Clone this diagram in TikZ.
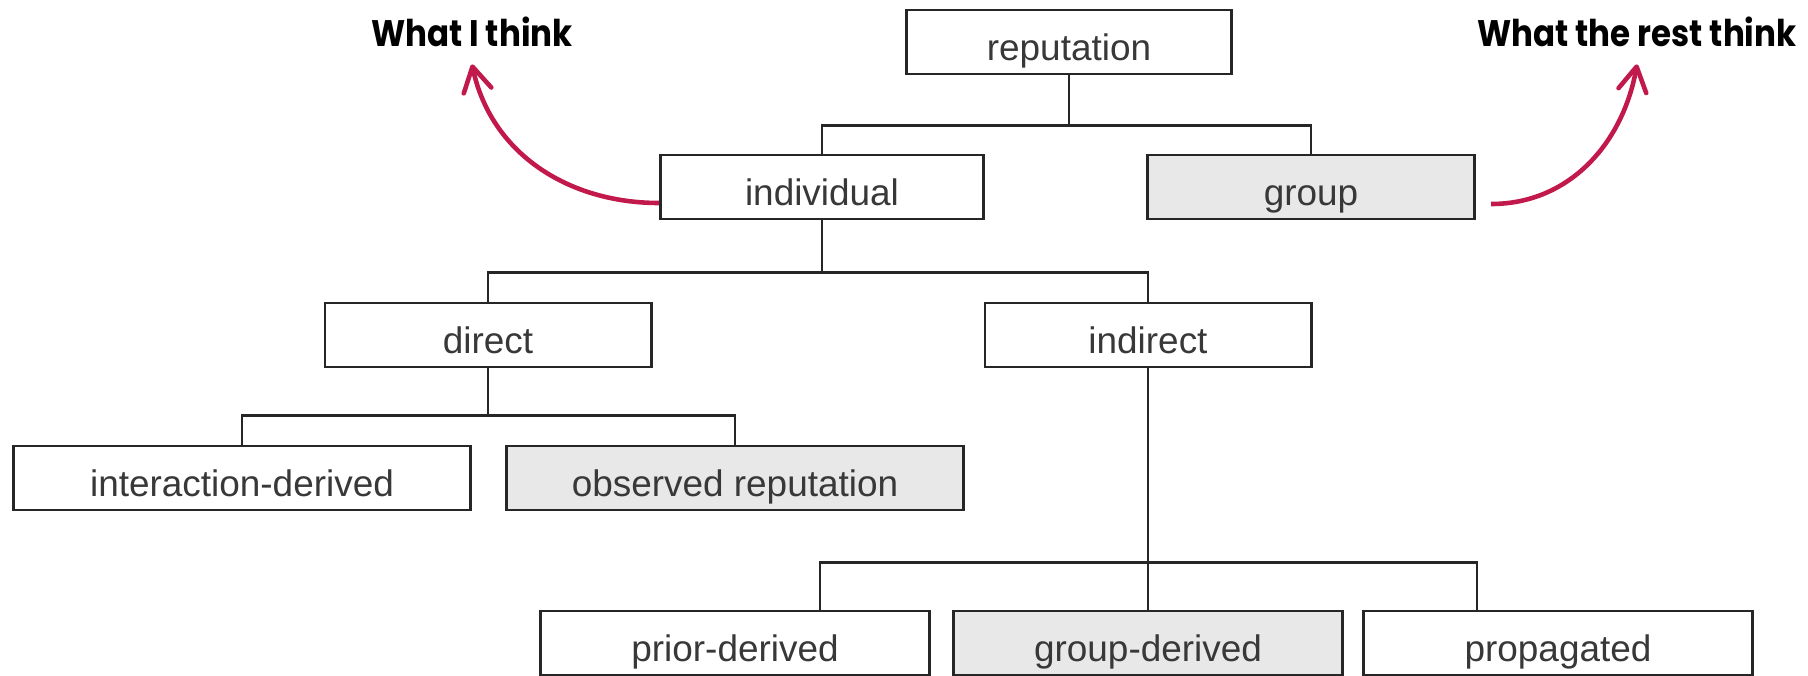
\documentclass[tikz,border=0pt]{standalone}
\usepackage{fontspec}
\setmainfont{Liberation Sans}
\newfontfamily\headfont{Poppins}[FakeStretch=0.88]
\usetikzlibrary{arrows.meta,positioning}
\definecolor{boxgray}{rgb}{0.91,0.91,0.91}
\definecolor{boxline}{rgb}{0.15,0.15,0.15}
\definecolor{txt}{rgb}{0.22,0.22,0.22}
\definecolor{crimson}{RGB}{193,25,75}

\begin{document}
\begin{tikzpicture}[x=0.01cm,y=-0.01cm]
\tikzstyle{box}=[draw=boxline,line width=0.8pt,minimum height=0.64cm,inner sep=0pt,text height=12pt,text depth=1.2pt,text=txt,font=\fontsize{10.5}{12}\selectfont]
\tikzstyle{shaded}=[box,fill=boxgray]
\tikzstyle{link}=[draw=boxline,line width=0.8pt]
\tikzstyle{arrow}=[crimson,line width=1.3pt,-{Straight Barb[angle=60:8pt,round]}]
\tikzstyle{head}=[font=\headfont\bfseries\fontsize{10.5}{12}\selectfont]
\useasboundingbox (0,0) rectangle (1808,676);
% tree
\node [box,minimum width=3.25cm] (rep) at (1069,42) {reputation};
\node [box,minimum width=3.23cm] (indiv) at (822,187) {individual};
\node [shaded,minimum width=3.27cm] (grp) at (1311,187) {group};
\node [box,minimum width=3.26cm] (direct) at (488,335) {direct};
\node [box,minimum width=3.26cm] (indirect) at (1148,335) {indirect};
\node [box,minimum width=4.56cm] (inter) at (242,478) {interaction-derived};
\node [shaded,minimum width=4.56cm] (observed) at (735,478) {observed reputation};
\node [box,minimum width=3.89cm] (prior) at (735,643) {prior-derived};
\node [shaded,minimum width=3.89cm] (gderived) at (1148,643) {group-derived};
\node [box,minimum width=3.88cm] (propag) at (1558,643) {propagated};
\draw [link] (rep.south) -- ++(0,50) coordinate (j1);
\draw [link] (indiv.north) |- (j1) -| (grp.north);
\draw [link] (indiv.south) -- ++(0,52) coordinate (j2);
\draw [link] (direct.north) |- (j2) -| (indirect.north);
\draw [link] (direct.south) -- ++(0,47) coordinate (j3);
\draw [link] (inter.north) |- (j3) -| (observed.north);
\draw [link] (indirect.south) -- ++(0,194) coordinate (j4);
\draw [link] (j4) -- (gderived.north);
\draw [link] ([xshift=0.85cm]prior.north) |- (j4) -| ([xshift=-0.81cm]propag.north);
% labels
\node [head] (think) at (472,32) {What I think};
\node [head] (rest) at (1637,32) {What the rest think};
\draw [arrow] ([yshift=-0.16cm]indiv.west) to[out=180,in=-78] ([yshift=-0.05cm]think.south);
\draw [arrow] ([xshift=0.15cm,yshift=-0.17cm]grp.east) to[out=0,in=-100] ([yshift=-0.05cm]rest.south);
\end{tikzpicture}
\end{document}
